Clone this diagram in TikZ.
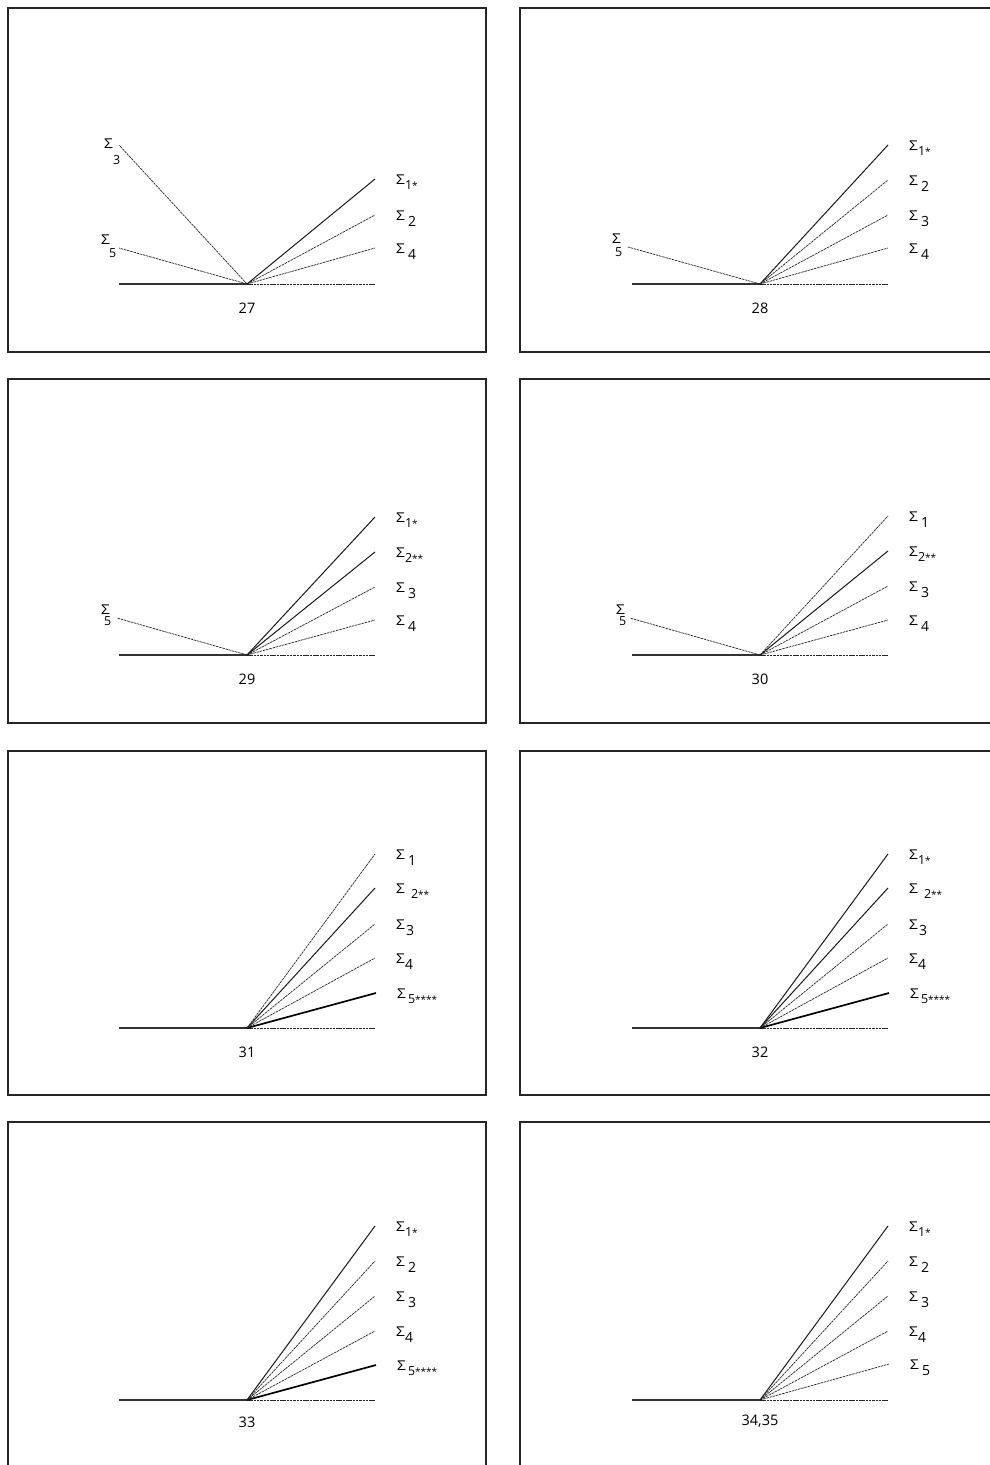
\documentclass[tikz,border=0pt]{standalone}
\usepackage{fontspec}
\setmainfont{Open Sans}
\usepackage{graphicx}
\tikzset{
 frame/.style={draw=black!85, line width=1.3pt},
 solidln/.style={draw=black!90, line width=1pt},
 dashln/.style={draw=black!85, line width=0.7pt, dash pattern=on 2.5pt off 0.8pt},
 boldln/.style={draw=black, line width=1.7pt},
 baseln/.style={draw=black!80, line width=1.3pt},
 lab/.style={anchor=base west, inner sep=0pt, font=\fontsize{13.5}{13}\selectfont},
 num/.style={inner sep=0pt, font=\fontsize{14.5}{15}\selectfont},
}
\newcommand{\Sg}{\scalebox{1.15}[1]{Σ}}
\newcommand{\subA}[1]{\raisebox{-5pt}{\fontsize{12.5}{12}\selectfont #1}}
\newcommand{\subB}[1]{\raisebox{-6pt}{\fontsize{14}{14}\selectfont #1}}
\newcommand{\subL}[1]{\fontsize{12.5}{12}\selectfont #1}
\newcommand{\stars}[1]{{\fontsize{10}{10}\selectfont #1}}
\newcommand{\rl}[3]{\node[lab] (#1) at ([shift={(21pt,-5pt)}]#2) {#3};}
\newcommand{\tightS}[1]{\Sg\subA{#1}}
\newcommand{\gapS}[1]{\Sg\hspace{3pt}\subB{#1}}
\begin{document}
\begin{tikzpicture}[x=1pt,y=-1pt]
\useasboundingbox (0,0) rectangle (989,1465);
% frames
\draw[frame] (8,8) rectangle (486,352);
\draw[frame] (520,8) rectangle (1000,352);
\draw[frame] (8,379) rectangle (486,723);
\draw[frame] (520,379) rectangle (1000,723);
\draw[frame] (8,751) rectangle (486,1095);
\draw[frame] (520,751) rectangle (1000,1095);
\draw[frame] (8,1122) rectangle (486,1480);
\draw[frame] (520,1122) rectangle (1000,1480);

% ---------- panel 27 ----------
\begin{scope}[shift={(247,284)}]
\coordinate (a-v) at (0,0);
\coordinate (a-l) at (-128,0);
\coordinate (a-r) at (128,0);
\coordinate (a-e1) at (128,-105);
\coordinate (a-e2) at (128,-69);
\coordinate (a-e4) at (128,-36);
\coordinate (a-w3) at (-128,-139);
\coordinate (a-w5) at (-128,-36);
\draw[baseln] (a-l) -- (a-v);
\draw[dashln] (a-v) -- (a-r);
\draw[dashln] (a-v) -- (a-w3);
\draw[dashln] (a-v) -- (a-w5);
\draw[dashln] (a-v) -- (a-e4);
\draw[dashln] (a-v) -- (a-e2);
\draw[solidln] (a-v) -- (a-e1);
\rl{a-t1}{a-e1}{\tightS{1\stars{*}}}
\rl{a-t2}{a-e2}{\gapS{2}}
\rl{a-t4}{a-e4}{\gapS{4}}
\node[lab] (a-t3) at ([shift={(-15pt,-3pt)}]a-w3) {\Sg\kern0pt\raisebox{-16pt}{\subL{3}}};
\node[lab] (a-t5) at ([shift={(-18pt,4pt)}]a-w5) {\Sg\kern-1pt\raisebox{-13pt}{\subL{5}}};
\node[num] (a-n) at (0,24) {27};
\end{scope}

% ---------- panel 28 ----------
\begin{scope}[shift={(760,284)}]
\coordinate (b-v) at (0,0);
\coordinate (b-l) at (-128,0);
\coordinate (b-r) at (128,0);
\coordinate (b-e1) at (128,-139);
\coordinate (b-e2) at (128,-104);
\coordinate (b-e3) at (128,-69);
\coordinate (b-e4) at (128,-36);
\coordinate (b-w5) at (-132,-37);
\draw[baseln] (b-l) -- (b-v);
\draw[dashln] (b-v) -- (b-r);
\draw[dashln] (b-v) -- (b-w5);
\draw[dashln] (b-v) -- (b-e4);
\draw[dashln] (b-v) -- (b-e3);
\draw[dashln] (b-v) -- (b-e2);
\draw[solidln] (b-v) -- (b-e1);
\rl{b-t1}{b-e1}{\tightS{1\stars{*}}}
\rl{b-t2}{b-e2}{\gapS{2}}
\rl{b-t3}{b-e3}{\gapS{3}}
\rl{b-t4}{b-e4}{\gapS{4}}
\node[lab] (b-t5) at ([shift={(-16pt,4pt)}]b-w5) {\Sg\kern-6pt\raisebox{-13pt}{\subL{5}}};
\node[num] (b-n) at (0,24) {28};
\end{scope}

% ---------- panel 29 ----------
\begin{scope}[shift={(247,655)}]
\coordinate (c-v) at (0,0);
\coordinate (c-l) at (-128,0);
\coordinate (c-r) at (128,0);
\coordinate (c-e1) at (128,-138);
\coordinate (c-e2) at (128,-103);
\coordinate (c-e3) at (128,-68);
\coordinate (c-e4) at (128,-35);
\coordinate (c-w5) at (-130,-37);
\draw[baseln] (c-l) -- (c-v);
\draw[dashln] (c-v) -- (c-r);
\draw[dashln] (c-v) -- (c-w5);
\draw[dashln] (c-v) -- (c-e4);
\draw[dashln] (c-v) -- (c-e3);
\draw[solidln] (c-v) -- (c-e2);
\draw[solidln] (c-v) -- (c-e1);
\rl{c-t1}{c-e1}{\tightS{1\stars{*}}}
\rl{c-t2}{c-e2}{\tightS{2\stars{**}}}
\rl{c-t3}{c-e3}{\gapS{3}}
\rl{c-t4}{c-e4}{\gapS{4}}
\node[lab] (c-t5) at ([shift={(-16pt,4pt)}]c-w5) {\Sg\kern-6pt\raisebox{-11pt}{\subL{5}}};
\node[num] (c-n) at (0,24) {29};
\end{scope}

% ---------- panel 30 ----------
\begin{scope}[shift={(760,655)}]
\coordinate (d-v) at (0,0);
\coordinate (d-l) at (-128,0);
\coordinate (d-r) at (128,0);
\coordinate (d-e1) at (128,-139);
\coordinate (d-e2) at (128,-104);
\coordinate (d-e3) at (128,-69);
\coordinate (d-e4) at (128,-35);
\coordinate (d-w5) at (-130,-37);
\draw[baseln] (d-l) -- (d-v);
\draw[dashln] (d-v) -- (d-r);
\draw[dashln] (d-v) -- (d-w5);
\draw[dashln] (d-v) -- (d-e4);
\draw[dashln] (d-v) -- (d-e3);
\draw[solidln] (d-v) -- (d-e2);
\draw[dashln] (d-v) -- (d-e1);
\rl{d-t1}{d-e1}{\gapS{1}}
\rl{d-t2}{d-e2}{\tightS{2\stars{**}}}
\rl{d-t3}{d-e3}{\gapS{3}}
\rl{d-t4}{d-e4}{\gapS{4}}
\node[lab] (d-t5) at ([shift={(-14pt,4pt)}]d-w5) {\Sg\kern-6pt\raisebox{-11pt}{\subL{5}}};
\node[num] (d-n) at (0,24) {30};
\end{scope}

% ---------- panel 31 ----------
\begin{scope}[shift={(247,1028)}]
\coordinate (e-v) at (0,0);
\coordinate (e-l) at (-128,0);
\coordinate (e-r) at (128,0);
\coordinate (e-e1) at (128,-174);
\coordinate (e-e2) at (128,-140);
\coordinate (e-e3) at (128,-104);
\coordinate (e-e4) at (128,-70);
\coordinate (e-e5) at (129,-35);
\draw[baseln] (e-l) -- (e-v);
\draw[dashln] (e-v) -- (e-r);
\draw[boldln] (e-v) -- (e-e5);
\draw[dashln] (e-v) -- (e-e4);
\draw[dashln] (e-v) -- (e-e3);
\draw[solidln] (e-v) -- (e-e2);
\draw[dashln] (e-v) -- (e-e1);
\rl{e-t1}{e-e1}{\gapS{1}}
\rl{e-t2}{e-e2}{\Sg\hspace{6pt}\subA{2\stars{**}}}
\rl{e-t3}{e-e3}{\Sg\hspace{1pt}\subB{3}}
\rl{e-t4}{e-e4}{\Sg\subB{4}}
\rl{e-t5}{e-e5}{\Sg\hspace{2pt}\subA{5\stars{****}}}
\node[num] (e-n) at (0,24) {31};
\end{scope}

% ---------- panel 32 ----------
\begin{scope}[shift={(760,1028)}]
\coordinate (f-v) at (0,0);
\coordinate (f-l) at (-128,0);
\coordinate (f-r) at (128,0);
\coordinate (f-e1) at (128,-174);
\coordinate (f-e2) at (128,-140);
\coordinate (f-e3) at (128,-104);
\coordinate (f-e4) at (128,-70);
\coordinate (f-e5) at (129,-35);
\draw[baseln] (f-l) -- (f-v);
\draw[dashln] (f-v) -- (f-r);
\draw[boldln] (f-v) -- (f-e5);
\draw[dashln] (f-v) -- (f-e4);
\draw[dashln] (f-v) -- (f-e3);
\draw[solidln] (f-v) -- (f-e2);
\draw[solidln] (f-v) -- (f-e1);
\rl{f-t1}{f-e1}{\tightS{1\stars{*}}}
\rl{f-t2}{f-e2}{\Sg\hspace{6pt}\subA{2\stars{**}}}
\rl{f-t3}{f-e3}{\Sg\hspace{1pt}\subB{3}}
\rl{f-t4}{f-e4}{\Sg\subB{4}}
\rl{f-t5}{f-e5}{\Sg\hspace{2pt}\subA{5\stars{****}}}
\node[num] (f-n) at (0,24) {32};
\end{scope}

% ---------- panel 33 ----------
\begin{scope}[shift={(247,1400)}]
\coordinate (g-v) at (0,0);
\coordinate (g-l) at (-128,0);
\coordinate (g-r) at (128,0);
\coordinate (g-e1) at (128,-174);
\coordinate (g-e2) at (128,-139);
\coordinate (g-e3) at (128,-104);
\coordinate (g-e4) at (128,-69);
\coordinate (g-e5) at (129,-35);
\draw[baseln] (g-l) -- (g-v);
\draw[dashln] (g-v) -- (g-r);
\draw[boldln] (g-v) -- (g-e5);
\draw[dashln] (g-v) -- (g-e4);
\draw[dashln] (g-v) -- (g-e3);
\draw[dashln] (g-v) -- (g-e2);
\draw[solidln] (g-v) -- (g-e1);
\rl{g-t1}{g-e1}{\tightS{1\stars{*}}}
\rl{g-t2}{g-e2}{\gapS{2}}
\rl{g-t3}{g-e3}{\gapS{3}}
\rl{g-t4}{g-e4}{\Sg\subB{4}}
\rl{g-t5}{g-e5}{\Sg\hspace{2pt}\subA{5\stars{****}}}
\node[num] (g-n) at (0,22) {33};
\end{scope}

% ---------- panel 34,35 ----------
\begin{scope}[shift={(760,1400)}]
\coordinate (h-v) at (0,0);
\coordinate (h-l) at (-128,0);
\coordinate (h-r) at (128,0);
\coordinate (h-e1) at (128,-174);
\coordinate (h-e2) at (128,-139);
\coordinate (h-e3) at (128,-104);
\coordinate (h-e4) at (128,-69);
\coordinate (h-e5) at (129,-36);
\draw[baseln] (h-l) -- (h-v);
\draw[dashln] (h-v) -- (h-r);
\draw[dashln] (h-v) -- (h-e5);
\draw[dashln] (h-v) -- (h-e4);
\draw[dashln] (h-v) -- (h-e3);
\draw[dashln] (h-v) -- (h-e2);
\draw[solidln] (h-v) -- (h-e1);
\rl{h-t1}{h-e1}{\tightS{1\stars{*}}}
\rl{h-t2}{h-e2}{\gapS{2}}
\rl{h-t3}{h-e3}{\gapS{3}}
\rl{h-t4}{h-e4}{\Sg\subB{4}}
\rl{h-t5}{h-e5}{\gapS{5}}
\node[num] (h-n) at (0,21) {34,35};
\end{scope}
\end{tikzpicture}
\end{document}
